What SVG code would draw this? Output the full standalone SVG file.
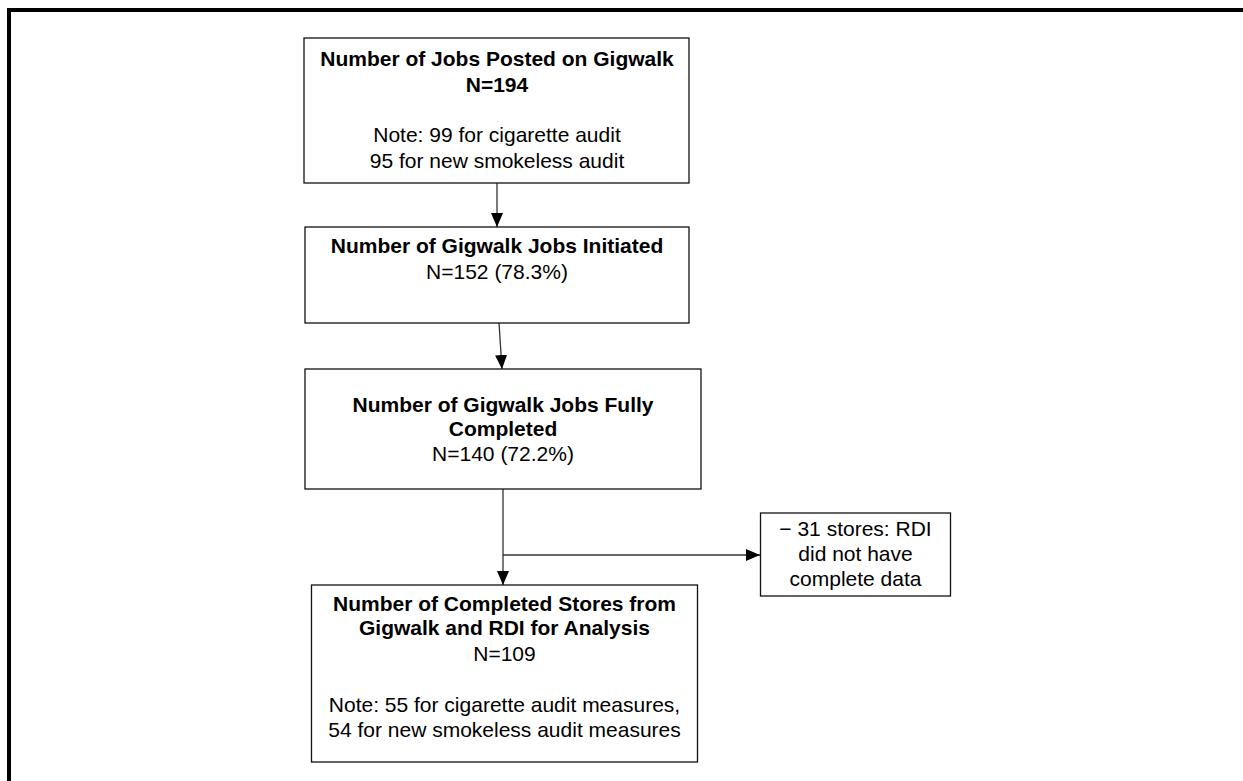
<svg xmlns="http://www.w3.org/2000/svg" width="1243" height="781" viewBox="0 0 1243 781">
<defs>
<style>
.box{fill:#fff;stroke:#111;stroke-width:1.3}
.b{font-family:"Liberation Sans",Arial,sans-serif;font-size:21px;font-weight:bold;fill:#000;text-anchor:middle}
.r{font-family:"Liberation Sans",Arial,sans-serif;font-size:21px;fill:#000;text-anchor:middle}
.c{fill:none;stroke:#333;stroke-width:1.3}
</style>
<marker id="ah" viewBox="0 0 14 12" refX="14" refY="6" markerWidth="14" markerHeight="12" markerUnits="userSpaceOnUse" orient="auto">
<path d="M0,0 L14,6 L0,12 Z" fill="#000"/>
</marker>
</defs>
<rect x="0" y="0" width="1243" height="781" fill="#fff"/>
<path d="M9,781 V10 H1243" fill="none" stroke="#000" stroke-width="4"/>
<g id="connectors">
<line class="c" x1="497" y1="183" x2="497" y2="227" marker-end="url(#ah)"/>
<line class="c" x1="499" y1="323" x2="502" y2="369" marker-end="url(#ah)"/>
<line class="c" x1="503" y1="489" x2="503" y2="585" marker-end="url(#ah)"/>
<line class="c" x1="503" y1="555" x2="760" y2="555" marker-end="url(#ah)"/>
</g>
<g id="n1">
<rect class="box" x="304" y="38" width="385" height="145"/>
<text class="b" x="497" y="66">Number of Jobs Posted on Gigwalk</text>
<text class="b" x="497" y="91.5">N=194</text>
<text class="r" x="497" y="142">Note: 99 for cigarette audit</text>
<text class="r" x="497" y="167.5">95 for new smokeless audit</text>
</g>
<g id="n2">
<rect class="box" x="305" y="227" width="384" height="96"/>
<text class="b" x="497" y="253">Number of Gigwalk Jobs Initiated</text>
<text class="r" x="497" y="279">N=152 (78.3%)</text>
</g>
<g id="n3">
<rect class="box" x="305" y="369" width="396" height="120"/>
<text class="b" x="503" y="411.5">Number of Gigwalk Jobs Fully</text>
<text class="b" x="503" y="436">Completed</text>
<text class="r" x="503" y="461">N=140 (72.2%)</text>
</g>
<g id="n4">
<rect class="box" x="311.5" y="585" width="386" height="177"/>
<text class="b" x="504.5" y="610.5">Number of Completed Stores from</text>
<text class="b" x="504.5" y="635">Gigwalk and RDI for Analysis</text>
<text class="r" x="504.5" y="661">N=109</text>
<text class="r" x="504.5" y="711.5">Note: 55 for cigarette audit measures,</text>
<text class="r" x="504.5" y="736.5">54 for new smokeless audit measures</text>
</g>
<g id="n5">
<rect class="box" x="760.5" y="513" width="190" height="83"/>
<text class="r" x="855.5" y="536">− 31 stores: RDI</text>
<text class="r" x="855.5" y="561">did not have</text>
<text class="r" x="855.5" y="586">complete data</text>
</g>
</svg>
